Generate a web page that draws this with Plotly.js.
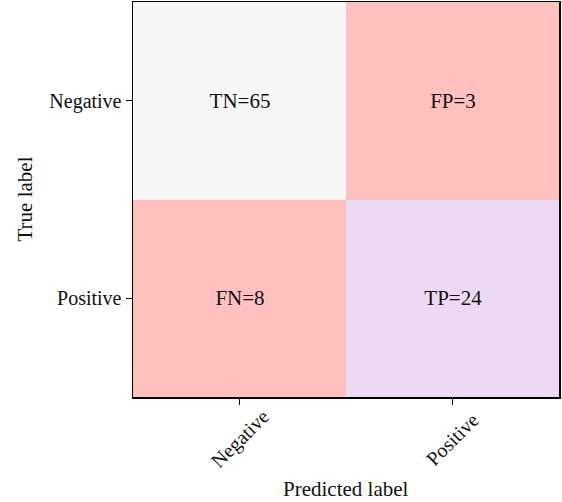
<!DOCTYPE html>
<html>
<head>
<meta charset="utf-8">
<script src="https://cdn.plot.ly/plotly-3.0.1.min.js"></script>
<style>html,body{margin:0;padding:0;background:#fff;}#chart{width:562px;height:502px;}</style>
</head>
<body>
<div id="chart"></div>
<script>
const predictedLabels = ['Negative', 'Positive'];
const trueLabels = ['Negative', 'Positive'];
const counts = [[65, 3], [8, 24]];
const cellNames = [['TN', 'FP'], ['FN', 'TP']];
const xTitle = 'Predicted label';
const yTitle = 'True label';

const cellText = counts.map((row, i) => row.map((v, j) => cellNames[i][j] + '=' + v));
const font = 'Liberation Serif, Times New Roman, serif';

const trace = {
  type: 'heatmap',
  x: predictedLabels,
  y: trueLabels,
  z: counts,
  text: cellText,
  texttemplate: '%{text}',
  textfont: {family: font, size: 21, color: '#111'},
  zmin: 3, zmax: 65,
  colorscale: [
    [0, '#ffc0c0'], [0.15, '#ffc0c0'],
    [0.15, '#eed9f4'], [0.5, '#eed9f4'],
    [0.5, '#f7f7f7'], [1, '#f7f7f7']
  ],
  showscale: false,
  xgap: 0, ygap: 0,
  hoverinfo: 'skip'
};

// x tick labels drawn as rotated annotations centred on the ticks (matplotlib style)
const xTickAnnotations = predictedLabels.map(lbl => ({
  x: lbl, xref: 'x',
  y: 0, yref: 'paper', yshift: -42,
  text: lbl, showarrow: false, textangle: -45,
  xanchor: 'center', yanchor: 'middle',
  font: {family: font, size: 20, color: '#111'}
}));

const titleAnnotations = [
  {x: 0.5, xref: 'paper', y: 0, yref: 'paper', yshift: -92,
   text: xTitle, showarrow: false, xanchor: 'center', yanchor: 'middle',
   font: {family: font, size: 21, color: '#111'}},
  {x: 0, xref: 'paper', xshift: -109, y: 0.5, yref: 'paper',
   text: yTitle, showarrow: false, textangle: -90, xanchor: 'center', yanchor: 'middle',
   font: {family: font, size: 21, color: '#111'}}
];

const layout = {
  width: 562, height: 502,
  margin: {l: 133, r: 3, t: 2, b: 105},
  paper_bgcolor: '#fff', plot_bgcolor: '#fff',
  font: {family: font, size: 20, color: '#111'},
  xaxis: {
    showticklabels: false,
    ticks: 'outside', ticklen: 6, tickcolor: '#000', tickwidth: 1,
    showline: true, mirror: true, linecolor: '#000', linewidth: 1.5,
    showgrid: false, zeroline: false, automargin: false
  },
  yaxis: {
    autorange: 'reversed',
    tickfont: {family: font, size: 20, color: '#111'},
    ticks: 'outside', ticklen: 6, tickcolor: '#000', tickwidth: 1,
    showline: true, mirror: true, linecolor: '#000', linewidth: 1.5,
    showgrid: false, zeroline: false, automargin: false
  },
  annotations: xTickAnnotations.concat(titleAnnotations),
  showlegend: false
};

Plotly.newPlot('chart', [trace], layout, {displayModeBar: false, staticPlot: true});
</script>
</body>
</html>
